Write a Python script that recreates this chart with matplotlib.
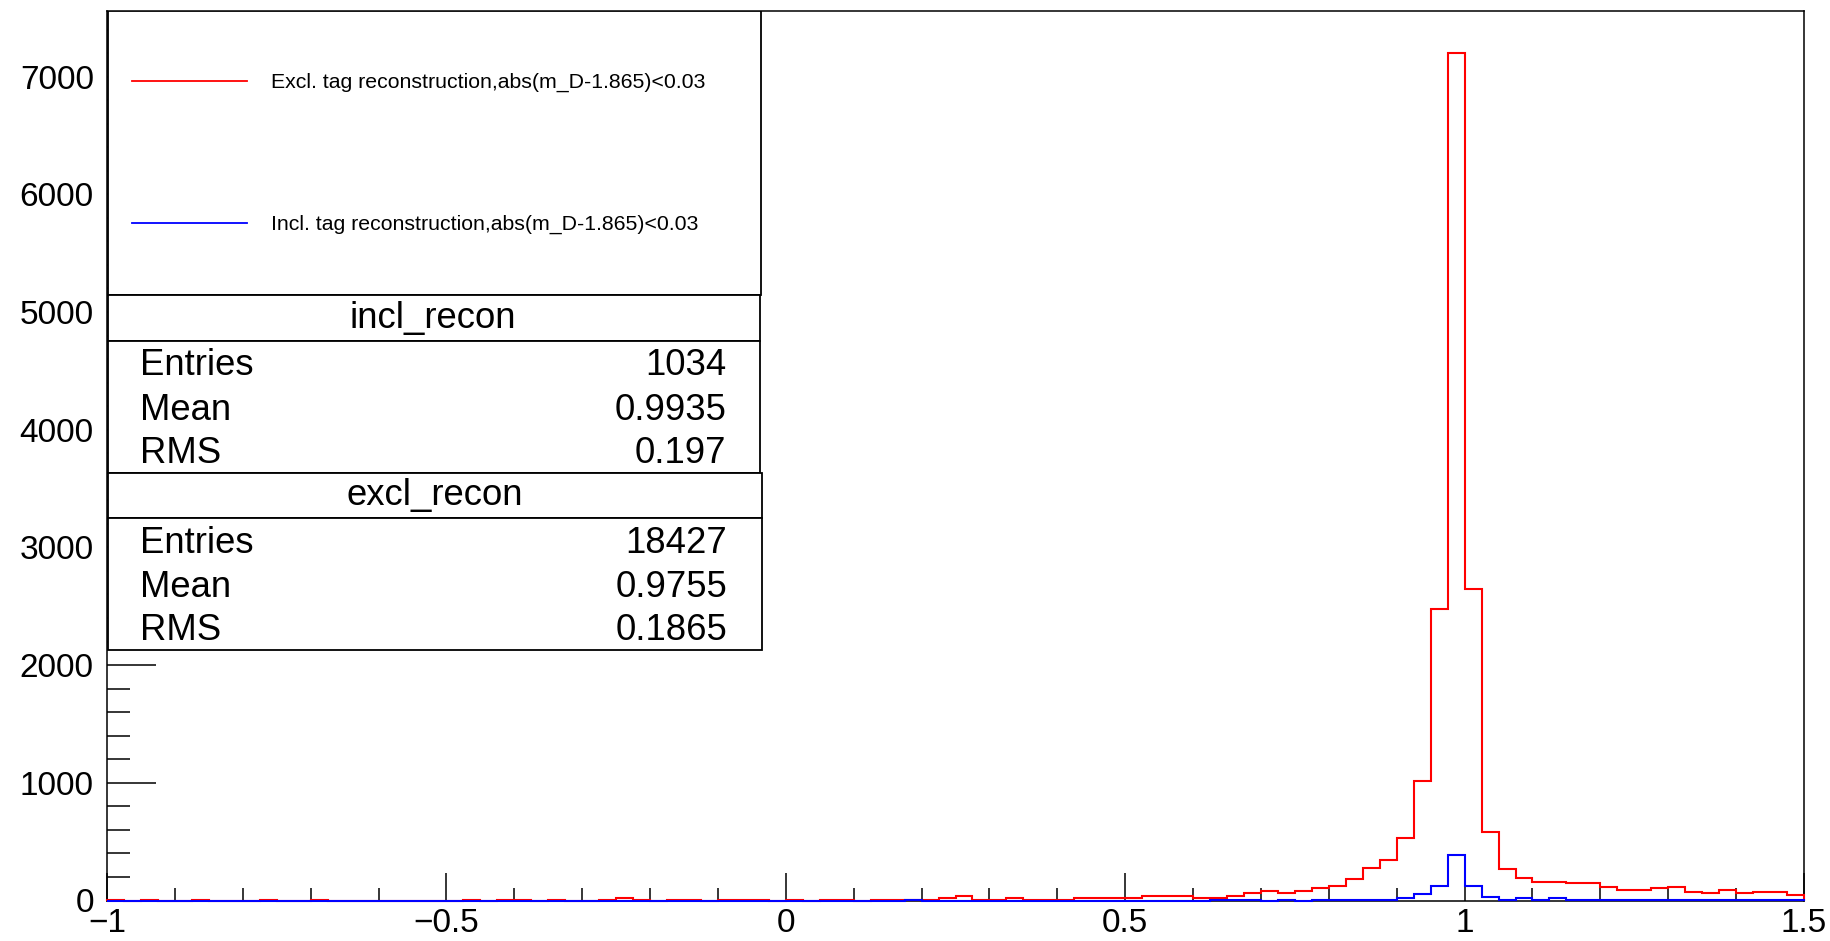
import numpy as np
import matplotlib
matplotlib.use("Agg")
import matplotlib.pyplot as plt
from matplotlib.patches import Rectangle
from matplotlib.ticker import MultipleLocator

plt.rcParams['font.family'] = ['Liberation Sans', 'DejaVu Sans']

# Binning of both histograms
x_min, x_max, n_bins = -1.0, 1.5, 100

# Exclusive tag reconstruction, bin contents (100 bins from -1 to 1.5)
excl_counts = [
    8, 0, 8, 0, 0, 8, 0, 0, 0, 8,
    0, 0, 8, 0, 0, 0, 0, 0, 0, 0,
    0, 8, 0, 8, 8, 0, 8, 0, 0, 8,
    25, 8, 0, 8, 8, 0, 8, 8, 8, 0,
    8, 0, 8, 8, 0, 8, 8, 8, 8, 25,
    42, 8, 8, 25, 8, 8, 8, 25, 25, 25,
    23, 42, 42, 42, 23, 17, 40, 65, 82, 65,
    82, 107, 125, 181, 280, 348, 529, 1016, 2480, 7200,
    2650, 578, 269, 190, 161, 161, 147, 147, 113, 91,
    91, 102, 113, 76, 62, 91, 62, 76, 76, 48,
]

# Inclusive tag reconstruction, bin contents
incl_counts = [
    0, 0, 0, 0, 0, 0, 0, 0, 0, 0,
    0, 0, 0, 0, 0, 0, 0, 0, 0, 0,
    0, 0, 0, 0, 0, 0, 0, 0, 0, 0,
    0, 0, 0, 0, 0, 0, 0, 0, 0, 0,
    0, 0, 0, 0, 0, 0, 0, 6, 0, 0,
    0, 0, 0, 0, 0, 0, 0, 0, 0, 0,
    0, 0, 0, 0, 0, 6, 6, 6, 0, 6,
    0, 6, 6, 6, 6, 6, 23, 54, 127, 385,
    127, 31, 6, 17, 6, 17, 6, 6, 6, 6,
    6, 6, 6, 6, 6, 6, 6, 6, 6, 6,
]

legend_labels = [
    "Excl. tag reconstruction,abs(m_D-1.865)<0.03",
    "Incl. tag reconstruction,abs(m_D-1.865)<0.03",
]
stat_names = ["Entries", "Mean", "RMS"]
incl_stats = ["1034", "0.9935", "0.197"]
excl_stats = ["18427", "0.9755", "0.1865"]
y_max = 7560

W, H = 1830, 941
fig = plt.figure(figsize=(W / 100, H / 100), dpi=100)
fig.patch.set_facecolor("white")


def fx(px):
    return px / W


def fy(py):
    return 1 - py / H


ax_l, ax_r, ax_t, ax_b = 107, 1804, 10.7, 900.5
ax = fig.add_axes([fx(ax_l), fy(ax_b), fx(ax_r - ax_l), (ax_b - ax_t) / H])

edges = np.linspace(x_min, x_max, n_bins + 1)
ax.stairs(excl_counts, edges, baseline=0, color="#ff0000", lw=1.5,
          zorder=3, clip_on=False)
ax.stairs(incl_counts, edges, baseline=0, color="#0000ff", lw=1.5,
          zorder=3.1, clip_on=False)

ax.set_xlim(x_min, x_max)
ax.set_ylim(0, y_max)

for sp in ax.spines.values():
    sp.set_linewidth(1.1)
    sp.set_color("black")

ax.xaxis.set_major_locator(MultipleLocator(0.5))
ax.xaxis.set_minor_locator(MultipleLocator(0.1))
ax.yaxis.set_major_locator(MultipleLocator(1000))
ax.yaxis.set_minor_locator(MultipleLocator(200))
ax.tick_params(axis="both", which="both", direction="in", top=False,
               right=False, width=1.1, labelsize=24, color="black")
ax.tick_params(axis="y", which="major", length=35, pad=9.5)
ax.tick_params(axis="y", which="minor", length=16.5)
ax.tick_params(axis="x", which="major", length=20, pad=5.5)
ax.tick_params(axis="x", which="minor", length=9.4)
ax.xaxis.set_major_formatter(
    matplotlib.ticker.FuncFormatter(lambda v, p: f"{v:g}".replace("-", "\u2212")))


def box(x0, y0, x1, y1):
    r = Rectangle((fx(x0), fy(y1)), fx(x1 - x0), (y1 - y0) / H,
                  transform=fig.transFigure, facecolor="white",
                  edgecolor="black", lw=1.3, zorder=5)
    ax.add_artist(r)


def label(x, y, s, size, ha="left"):
    ax.text(fx(x), fy(y), s, transform=fig.transFigure, fontsize=size,
            ha=ha, va="baseline", zorder=6, color="black")


# Legend box
box(108, 10.7, 761, 295)
for yl, col, txt, yb in [(80.7, "#ff0000", legend_labels[0], 87.3),
                         (223.3, "#0000ff", legend_labels[1], 230)]:
    ax.plot([fx(132), fx(247)], [fy(yl), fy(yl)], transform=fig.transFigure,
            color=col, lw=1.3, zorder=6, clip_on=False)
    label(271, yb, txt, 15.3)

# Statistics boxes
stat_size = 26.3
box(108, 295, 760, 341)
label(433, 328, "incl_recon", stat_size, ha="center")
box(108, 341, 760, 473)
for name, val, yb in zip(stat_names, incl_stats, [375, 420, 463.3]):
    label(140, yb, name, stat_size)
    label(726, yb, val, stat_size, ha="right")

box(108, 473, 762, 517.5)
label(435, 505, "excl_recon", stat_size, ha="center")
box(108, 517.5, 762, 650)
for name, val, yb in zip(stat_names, excl_stats, [553, 597, 640]):
    label(140, yb, name, stat_size)
    label(727, yb, val, stat_size, ha="right")

fig.savefig("out.png", dpi=100, facecolor="white")
